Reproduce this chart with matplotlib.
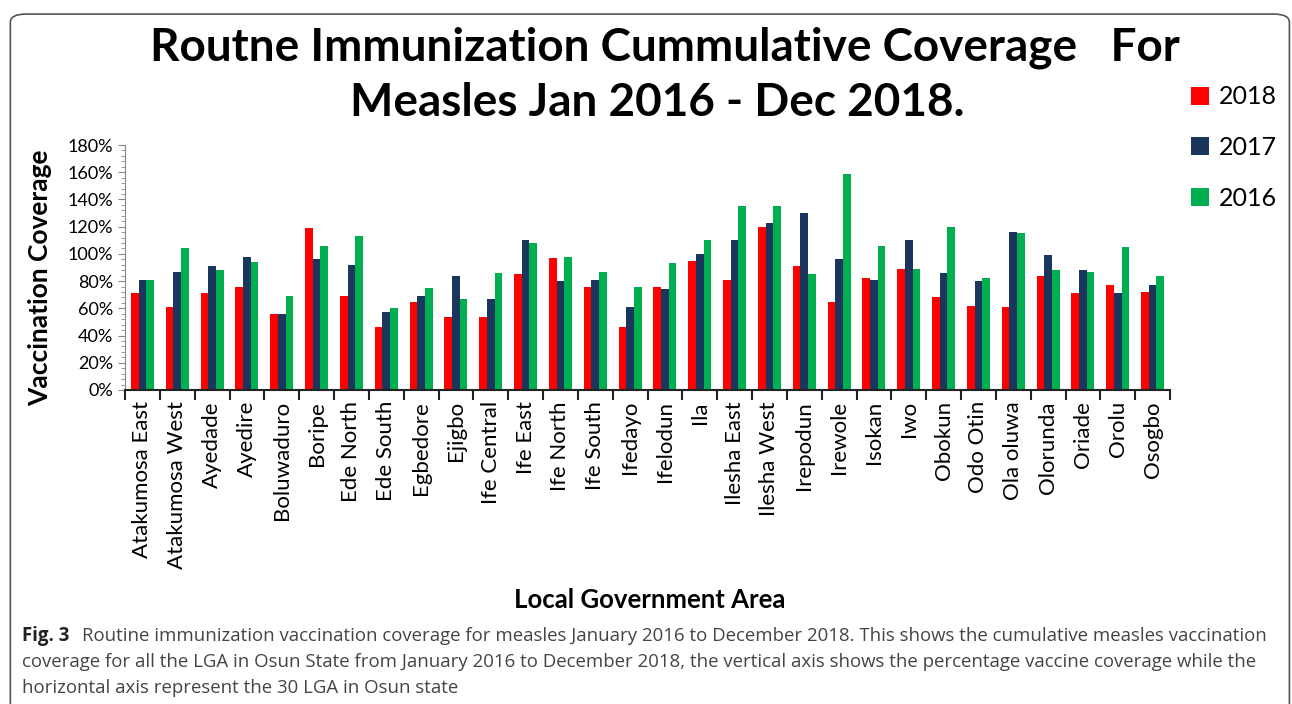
import numpy as np
import matplotlib.pyplot as plt
from matplotlib.patches import FancyBboxPatch
from matplotlib.ticker import MultipleLocator, FuncFormatter

lgas = ["Atakumosa East", "Atakumosa West", "Ayedade", "Ayedire", "Boluwaduro",
        "Boripe", "Ede North", "Ede South", "Egbedore", "Ejigbo", "Ife Central",
        "Ife East", "Ife North", "Ife South", "Ifedayo", "Ifelodun", "Ila",
        "Ilesha East", "Ilesha West", "Irepodun", "Irewole", "Isokan", "Iwo",
        "Obokun", "Odo Otin", "Ola oluwa", "Olorunda", "Oriade", "Orolu", "Osogbo"]

cov_2018 = [71, 61, 71, 76, 56, 119, 69, 46, 65, 54, 54, 85, 97, 76, 46, 76, 95,
            81, 120, 91, 65, 82, 89, 68, 62, 61, 84, 71, 77, 72]
cov_2017 = [81, 87, 91, 98, 56, 96, 92, 57, 69, 84, 67, 110, 80, 81, 61, 74, 100,
            110, 123, 130, 96, 81, 110, 86, 80, 116, 99, 88, 71, 77]
cov_2016 = [81, 104, 88, 94, 69, 106, 113, 60, 75, 67, 86, 108, 98, 87, 76, 93, 110,
            135, 135, 85, 159, 106, 89, 120, 82, 115, 88, 87, 105, 84]

years = ["2018", "2017", "2016"]
colors = ["#FF0000", "#1B365D", "#00B050"]

plt.rcParams['font.family'] = ['Lato', 'DejaVu Sans']

fig = plt.figure(figsize=(12.92, 7.04), dpi=100)

# rounded frame round the whole figure
frame = FancyBboxPatch((0.008, -0.05), 0.99, 1.03, transform=fig.transFigure,
                       boxstyle="round,pad=0,rounding_size=0.012",
                       fill=False, edgecolor="#555555", linewidth=1.2)
fig.patches.append(frame)

ax = fig.add_axes([125 / 1292, 1 - 390 / 704, (1170 - 125) / 1292, (390 - 145) / 704])

x = np.arange(len(lgas))
w = 0.22
for i, (vals, col, yr) in enumerate(zip([cov_2018, cov_2017, cov_2016], colors, years)):
    ax.bar(x + (i - 1) * w, vals, width=w, color=col, label=yr)

ax.set_xlim(-0.5, len(lgas) - 0.5)
ax.set_ylim(0, 180)
ax.yaxis.set_major_locator(MultipleLocator(20))
ax.yaxis.set_minor_locator(MultipleLocator(4))
ax.yaxis.set_major_formatter(FuncFormatter(lambda v, p: f"{v:.0f}%"))
ax.tick_params(axis='y', which='both', direction='out', color='#888888', labelsize=13)
ax.tick_params(axis='y', which='major', length=5)
ax.tick_params(axis='y', which='minor', length=3)

ax.set_xticks(np.arange(len(lgas) + 1) - 0.5, minor=False)
ax.set_xticklabels([])
ax.set_xticks(x, minor=True)
ax.set_xticklabels(lgas, minor=True, rotation=90, fontsize=16)
ax.tick_params(axis='x', which='major', length=7, width=1.5, color='#222222')
ax.tick_params(axis='x', which='minor', length=0, pad=8)

for s in ['top', 'right']:
    ax.spines[s].set_visible(False)
ax.spines['left'].set_color('#888888')
ax.spines['bottom'].set_color('#222222')
ax.spines['bottom'].set_linewidth(1.5)

fig.text(40 / 1292, 1 - 278 / 704, "Vaccination Coverage", rotation=90, ha='center', va='center',
         fontsize=19, fontweight='bold')
fig.text(650 / 1292, 1 - 600 / 704, "Local Government Area", ha='center', va='center',
         fontsize=18.5, fontweight='bold')

fig.text(665 / 1292, 1 - 48 / 704, "Routne Immunization Cummulative Coverage   For",
         ha='center', va='center', fontsize=33, fontweight='bold')
fig.text(657 / 1292, 1 - 103 / 704, "Measles Jan 2016 - Dec 2018.",
         ha='center', va='center', fontsize=33, fontweight='bold')

fig.legend(loc='upper left', bbox_to_anchor=(1168 / 1292, 1 - 63 / 704), frameon=False,
           fontsize=18, handlelength=0.75, handleheight=0.75, labelspacing=1.1,
           handletextpad=0.4)

cap_lines = [
    "Routine immunization vaccination coverage for measles January 2016 to December 2018. This shows the cumulative measles vaccination",
    "coverage for all the LGA in Osun State from January 2016 to December 2018, the vertical axis shows the percentage vaccine coverage while the",
    "horizontal axis represent the 30 LGA in Osun state",
]
cap_font = ['Open Sans', 'DejaVu Sans']
fig.text(22 / 1292, 1 - 636 / 704, "Fig. 3", ha='left', va='center', fontsize=13.4,
         fontweight='bold', family=cap_font, color='#222222')
fig.text(82 / 1292, 1 - 636 / 704, cap_lines[0], ha='left', va='center', fontsize=13.4,
         family=cap_font, color='#444444')
fig.text(22 / 1292, 1 - 662 / 704, cap_lines[1], ha='left', va='center', fontsize=13.4,
         family=cap_font, color='#444444')
fig.text(22 / 1292, 1 - 688 / 704, cap_lines[2], ha='left', va='center', fontsize=13.4,
         family=cap_font, color='#444444')

fig.savefig("out.png", dpi=100)
